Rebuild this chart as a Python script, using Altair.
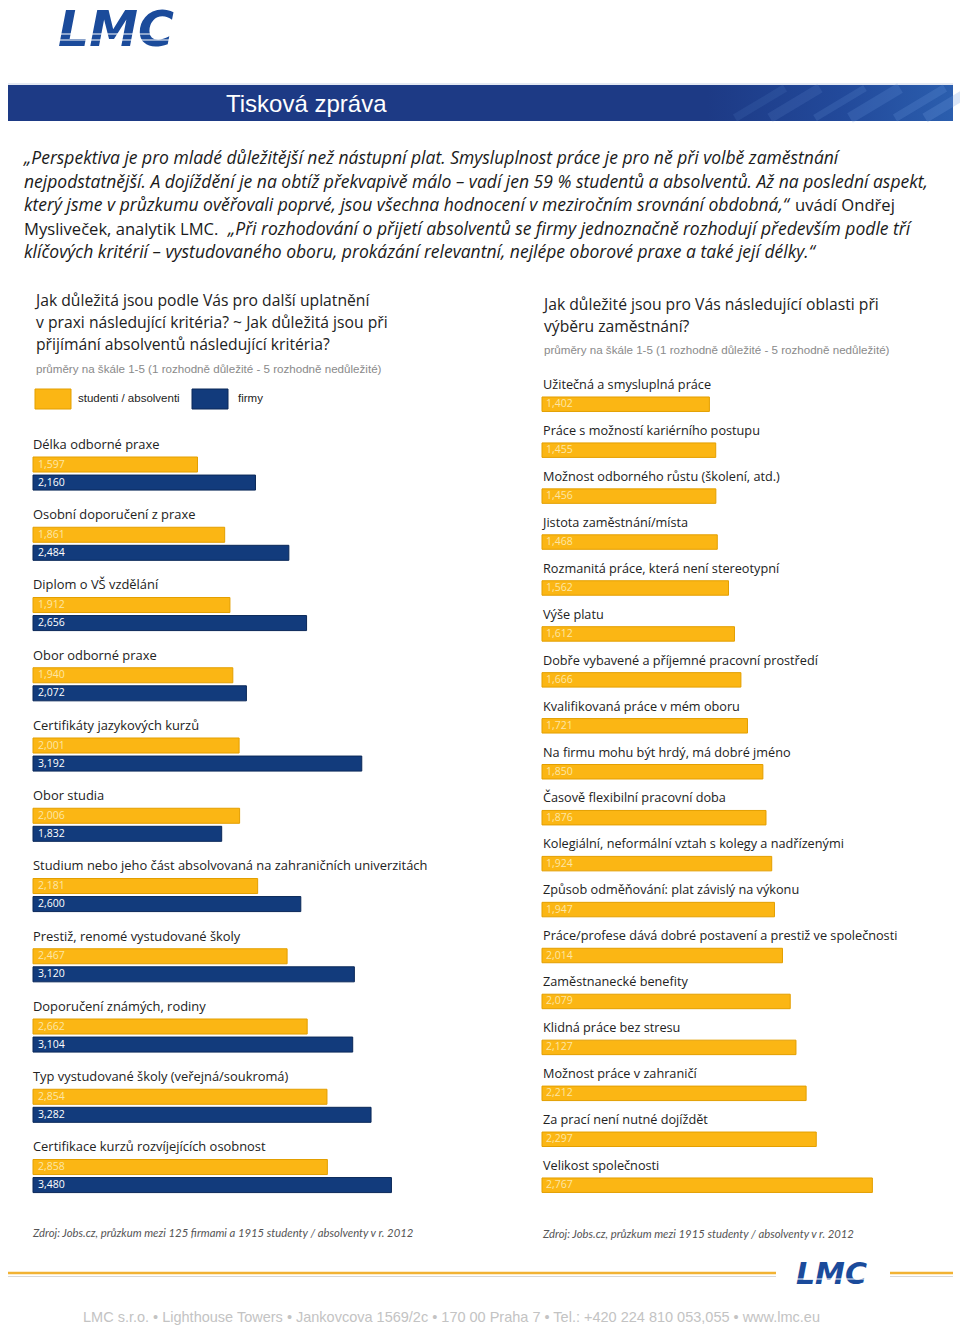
import altair as alt
import pandas as pd

# ---------------- data ----------------
left_labels = [
    "Délka odborné praxe",
    "Osobní doporučení z praxe",
    "Diplom o VŠ vzdělání",
    "Obor odborné praxe",
    "Certifikáty jazykových kurzů",
    "Obor studia",
    "Studium nebo jeho část absolvovaná na zahraničních univerzitách",
    "Prestiž, renomé vystudované školy",
    "Doporučení známých, rodiny",
    "Typ vystudované školy (veřejná/soukromá)",
    "Certifikace kurzů rozvíjejících osobnost",
]
left_students = [1.597, 1.861, 1.912, 1.940, 2.001, 2.006, 2.181, 2.467, 2.662, 2.854, 2.858]
left_firms = [2.160, 2.484, 2.656, 2.072, 3.192, 1.832, 2.600, 3.120, 3.104, 3.282, 3.480]

right_labels = [
    "Užitečná a smysluplná práce",
    "Práce s možností kariérního postupu",
    "Možnost odborného růstu (školení, atd.)",
    "Jistota zaměstnání/místa",
    "Rozmanitá práce, která není stereotypní",
    "Výše platu",
    "Dobře vybavené a příjemné pracovní prostředí",
    "Kvalifikovaná práce v mém oboru",
    "Na firmu mohu být hrdý, má dobré jméno",
    "Časově flexibilní pracovní doba",
    "Kolegiální, neformální vztah s kolegy a nadřízenými",
    "Způsob odměňování: plat závislý na výkonu",
    "Práce/profese dává dobré postavení a prestiž ve společnosti",
    "Zaměstnanecké benefity",
    "Klidná práce bez stresu",
    "Možnost práce v zahraničí",
    "Za prací není nutné dojíždět",
    "Velikost společnosti",
]
right_values = [1.402, 1.455, 1.456, 1.468, 1.562, 1.612, 1.666, 1.721, 1.850, 1.876,
                1.924, 1.947, 2.014, 2.079, 2.127, 2.212, 2.297, 2.767]

series_names = ["studenti / absolventi", "firmy"]

left_title = ["Jak důležitá jsou podle Vás pro další uplatnění",
              "v praxi následující kritéria? ~ Jak důležitá jsou při",
              "přijímání absolventů následující kritéria?"]
right_title = ["Jak důležité jsou pro Vás následující oblasti při",
               "výběru zaměstnání?"]
subtitle = "průměry na škále 1-5 (1 rozhodně důležité - 5 rozhodně nedůležité)"
left_source = "Zdroj: Jobs.cz, průzkum mezi 125 firmami a 1915 studenty / absolventy v r. 2012"
right_source = "Zdroj: Jobs.cz, průzkum mezi 1915 studenty / absolventy v r. 2012"
footer = "LMC s.r.o. • Lighthouse Towers  •  Jankovcova 1569/2c  •  170 00 Praha 7 • Tel.: +420 224 810 053,055  •  www.lmc.eu"
para = [
    ("„Perspektiva je pro mladé důležitější než nástupní plat. Smysluplnost práce je pro ně při volbě zaměstnání", "italic"),
    ("nejpodstatnější. A dojíždění je na obtíž překvapivě málo – vadí jen 59 % studentů a absolventů. Až na poslední aspekt,", "italic"),
    ("který jsme v průzkumu ověřovali poprvé, jsou všechna hodnocení v meziročním srovnání obdobná,“", "italic"),
    ("uvádí Ondřej", "normal"),
    ("Mysliveček, analytik LMC.", "normal"),
    ("„Při rozhodování o přijetí absolventů se firmy jednoznačně rozhodují především podle tří", "italic"),
    ("klíčových kritérií – vystudovaného oboru, prokázání relevantní, nejlépe oborové praxe a také její délky.“", "italic"),
]

# ---------------- style ----------------
YELLOW = "#fbb614"
YELLOW_EDGE = "#e39f00"
BLUE = "#123b7c"
BLUE_EDGE = "#0a2858"
LOGO_BLUE = "#1b4b9b"
CHART_FONT = "Open Sans"
PARA_FONT = "Open Sans"
LOGO_FONT = "DejaVu Sans"

W, H = 960, 1328

left_x = alt.Scale(domain=[0, 5], range=[33, 33 + 5 * 103.0], nice=False, zero=False)
left_y = alt.Scale(domain=[0, 11], range=[436, 436 + 11 * 70.25], nice=False, zero=False)
right_x = alt.Scale(domain=[0, 5], range=[542, 542 + 5 * 119.4], nice=False, zero=False)
right_y = alt.Scale(domain=[0, 18], range=[376, 376 + 18 * 45.94], nice=False, zero=False)

one = alt.Data(values=[{}])


def txt(text, x, y, size, color="#222", font=CHART_FONT, style="normal", weight="normal",
        align="left", baseline="middle"):
    return alt.Chart(one).mark_text(
        text=text, font=font, fontSize=size, fontStyle=style, fontWeight=weight,
        color=color, align=align, baseline=baseline
    ).encode(x=alt.value(x), y=alt.value(y))


def box(x, x2, y, y2, color, **kw):
    return alt.Chart(one).mark_rect(color=color, **kw).encode(
        x=alt.value(x), x2=alt.value(x2), y=alt.value(y), y2=alt.value(y2))


def rule(x, x2, y, y2, color, width, **kw):
    return alt.Chart(one).mark_rule(color=color, strokeWidth=width, **kw).encode(
        x=alt.value(x), x2=alt.value(x2), y=alt.value(y), y2=alt.value(y2))


layers = []

# ---- header logo ----
layers.append(txt("LMC", 58, 46, 49, color=LOGO_BLUE, font=LOGO_FONT, style="italic",
                  weight="bold", baseline="alphabetic"))
layers.append(rule(55, 200, 34, 34, "white", 1.2))
layers.append(rule(55, 200, 40, 40, "white", 1.2))

# ---- banner ----
grad = alt.LinearGradient(gradient="linear", x1=0, x2=1, y1=0, y2=0, stops=[
    alt.GradientStop(color="#1d3a85", offset=0),
    alt.GradientStop(color="#1d3a85", offset=0.74),
    alt.GradientStop(color="#22499a", offset=0.88),
    alt.GradientStop(color="#2b5eae", offset=1),
])
layers.append(rule(8, 953, 84, 84, "#c9d3e6", 1))
layers.append(box(8, 953, 85, 121, grad))
for (xa, wdt, op) in [(735, 8, 0.12), (770, 10, 0.15), (815, 7, 0.18), (850, 11, 0.2), (895, 8, 0.22), (925, 10, 0.25)]:
    layers.append(rule(xa, xa + 50, 118, 88, "#6f9be0", wdt, opacity=op, strokeCap="butt"))
layers.append(txt("Tisková zpráva", 226, 105, 24, color="white", font="Liberation Sans"))

# ---- paragraph ----
para_pos = [(24, 159), (24, 183), (24, 206), (795, 206), (24, 230), (228, 230), (24, 253)]
for (t, st), (px, py) in zip(para, para_pos):
    size = 17.5 if st == "italic" else 16.6
    layers.append(txt(t, px, py, size, color="#1a1a1a", font=PARA_FONT, style=st))

# ---- left titles ----
for i, t in enumerate(left_title):
    layers.append(txt(t, 36, 301 + 22 * i, 15.7, color="#222"))
layers.append(txt(subtitle, 36, 370, 11.6, color="#8a8a8a", font="Liberation Sans"))
layers.append(box(35, 71, 389, 409, YELLOW, stroke=YELLOW_EDGE, strokeWidth=1))
layers.append(txt(series_names[0], 78, 399, 11.5, color="#222", font="Liberation Sans"))
layers.append(box(192, 228, 389, 409, BLUE, stroke=BLUE_EDGE, strokeWidth=1))
layers.append(txt(series_names[1], 238, 399, 11.5, color="#222", font="Liberation Sans"))

# ---- right titles ----
for i, t in enumerate(right_title):
    layers.append(txt(t, 544, 305 + 22 * i, 15.7, color="#222"))
layers.append(txt(subtitle, 544, 351, 11.6, color="#8a8a8a", font="Liberation Sans"))

# ---- left bars ----
rows = []
for i, (lab, s, f) in enumerate(zip(left_labels, left_students, left_firms)):
    rows.append({"label": lab, "row": i, "slot": 0, "series": series_names[0], "value": s})
    rows.append({"label": lab, "row": i, "slot": 1, "series": series_names[1], "value": f})
left_long = pd.DataFrame(rows)
left_lab_df = pd.DataFrame({"label": left_labels, "row": list(range(len(left_labels)))})

color_scale = alt.Scale(domain=series_names, range=[YELLOW, BLUE])
edge_scale = alt.Scale(domain=series_names, range=[YELLOW_EDGE, BLUE_EDGE])
lbl_scale = alt.Scale(domain=series_names, range=["#fde6a6", "#ffffff"])

lbase = alt.Chart(left_long).transform_calculate(
    zero="0",
    y0="datum.row + 0.299 + datum.slot * 0.257",
    y1="datum.row + 0.299 + datum.slot * 0.257 + 0.214",
    ym="datum.row + 0.299 + datum.slot * 0.257 + 0.107",
    txt="replace(format(datum.value, '.3f'), '.', ',')",
)
layers.append(lbase.mark_rect(strokeWidth=1).encode(
    x=alt.X("zero:Q", scale=left_x, axis=None),
    x2="value:Q",
    y=alt.Y("y0:Q", scale=left_y, axis=None),
    y2="y1:Q",
    fill=alt.Fill("series:N", scale=color_scale, legend=None),
    stroke=alt.Stroke("series:N", scale=edge_scale, legend=None),
))
layers.append(lbase.mark_text(align="left", baseline="middle", dx=5, font=CHART_FONT, fontSize=10.5).encode(
    x=alt.X("zero:Q", scale=left_x, axis=None),
    y=alt.Y("ym:Q", scale=left_y, axis=None),
    text="txt:N",
    color=alt.Color("series:N", scale=lbl_scale, legend=None),
))
layers.append(alt.Chart(left_lab_df).transform_calculate(yl="datum.row + 0.128").mark_text(
    align="left", baseline="middle", font=CHART_FONT, fontSize=12.9, color="#222"
).encode(
    x=alt.value(33),
    y=alt.Y("yl:Q", scale=left_y, axis=None),
    text="label:N",
))

# ---- right bars ----
right_df = pd.DataFrame({"label": right_labels, "value": right_values, "row": list(range(len(right_labels)))})
rbase = alt.Chart(right_df).transform_calculate(
    zero="0",
    y0="datum.row + 0.457",
    y1="datum.row + 0.772",
    ym="datum.row + 0.6145",
    yl="datum.row + 0.196",
    txt="replace(format(datum.value, '.3f'), '.', ',')",
)
layers.append(rbase.mark_rect(color=YELLOW, stroke=YELLOW_EDGE, strokeWidth=1).encode(
    x=alt.X("zero:Q", scale=right_x, axis=None),
    x2="value:Q",
    y=alt.Y("y0:Q", scale=right_y, axis=None),
    y2="y1:Q",
))
layers.append(rbase.mark_text(align="left", baseline="middle", dx=4, font=CHART_FONT, fontSize=10.5, color="#fde6a6").encode(
    x=alt.X("zero:Q", scale=right_x, axis=None),
    y=alt.Y("ym:Q", scale=right_y, axis=None),
    text="txt:N",
))
layers.append(rbase.mark_text(align="left", baseline="middle", font=CHART_FONT, fontSize=12.7, color="#222").encode(
    x=alt.value(543),
    y=alt.Y("yl:Q", scale=right_y, axis=None),
    text="label:N",
))

# ---- sources ----
layers.append(txt(left_source, 33, 1234, 11.3, color="#555", font="Lato", style="italic"))
layers.append(txt(right_source, 543, 1235, 11.3, color="#555", font="Lato", style="italic"))

# ---- footer ----
layers.append(rule(8, 776, 1273, 1273, "#f2b233", 2.5))
layers.append(rule(8, 776, 1276.5, 1276.5, "#d8d8d8", 1))
layers.append(rule(890, 953, 1273, 1273, "#f2b233", 2.5))
layers.append(rule(890, 953, 1276.5, 1276.5, "#d8d8d8", 1))
layers.append(txt("LMC", 796, 1284, 30, color=LOGO_BLUE, font=LOGO_FONT, style="italic",
                  weight="bold", baseline="alphabetic"))
layers.append(rule(792, 875, 1279, 1279, "white", 1))
layers.append(txt(footer, 83, 1318, 14.5, color="#c3c3c3", font="Liberation Sans"))

chart = alt.layer(*layers).resolve_scale(
    x="independent", y="independent", color="independent", fill="independent", stroke="independent"
).properties(
    width=W, height=H, padding=0, autosize=alt.AutoSizeParams(type="none"), background="white"
).configure_view(stroke=None)

chart.save("out.html", embed_options={"renderer": "svg", "actions": False})
